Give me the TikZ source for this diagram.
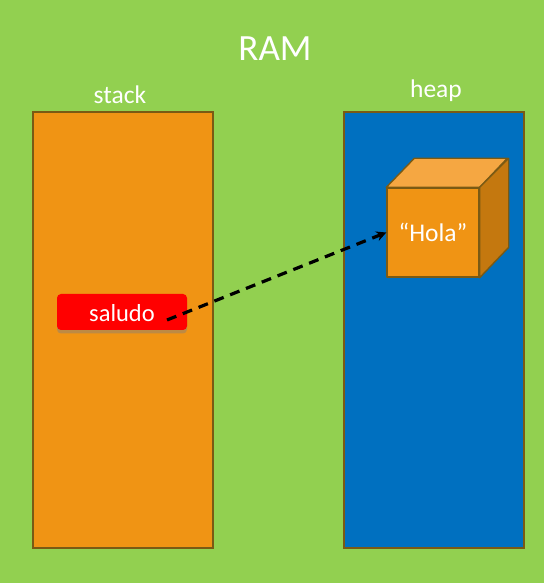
\documentclass[tikz,border=0pt]{standalone}
\usepackage{fontspec}
\setmainfont{Carlito}
\usetikzlibrary{positioning, shadows, arrows.meta}
\definecolor{ramgreen}{HTML}{92D050}
\definecolor{boxorange}{HTML}{F09414}
\definecolor{boxtop}{HTML}{F5A742}
\definecolor{boxside}{HTML}{C4780F}
\definecolor{boxline}{HTML}{7A5A14}
\definecolor{heapblue}{HTML}{0070C0}
\tikzset{
	x=1pt, y=1pt,
	region/.style={draw=boxline, line width=1.4pt, minimum width=180pt, minimum height=436pt, inner sep=0pt},
	caption/.style={text=white, font=\fontsize{25.5}{25.5}\selectfont, inner sep=0pt},
	cubeface/.style={draw=boxline, line width=1.4pt, line join=round},
}
\begin{document}
\begin{tikzpicture}
	\useasboundingbox (0,0) rectangle (544,583);
	\fill[ramgreen] (0,0) rectangle (544,583);

	\node[region, fill=boxorange] (stack) at (123,253) {};
	\node[region, fill=heapblue] (heap) at (434,253) {};

	\node[caption, font=\fontsize{37}{37}\selectfont] (ram) at (275,534) {RAM};
	\node[caption] (stacklabel) at (120,488) {stack};
	\node[caption] (heaplabel) at (436,492) {heap};

	\node[fill=red, rounded corners=4pt, minimum width=130pt, minimum height=36pt, inner sep=0pt,
		drop shadow={shadow xshift=0pt, shadow yshift=-3.5pt, opacity=0.45}] (saludo) at (122,271) {};
	\node[caption, font=\fontsize{24.5}{24.5}\selectfont] (saludotext) at (122,270) {saludo};

	% cube faces
	\node[cubeface, fill=boxorange, minimum width=92pt, minimum height=89pt, caption] (hola) at (433,350.5) {“Hola”};
	\draw[cubeface, fill=boxtop] (hola.north west) -- ++(28,29) -- ++(93,0) -- (hola.north east) -- cycle;
	\draw[cubeface, fill=boxside] (hola.north east) -- ++(29,29) -- ++(0,-89) -- (hola.south east) -- cycle;

	\coordinate (start) at (167,263);
	\draw[-{Stealth[length=10pt, width=10pt]}, line width=3.2pt, dash pattern=on 10pt off 7pt] (start) -- (hola.west);
\end{tikzpicture}
\end{document}
